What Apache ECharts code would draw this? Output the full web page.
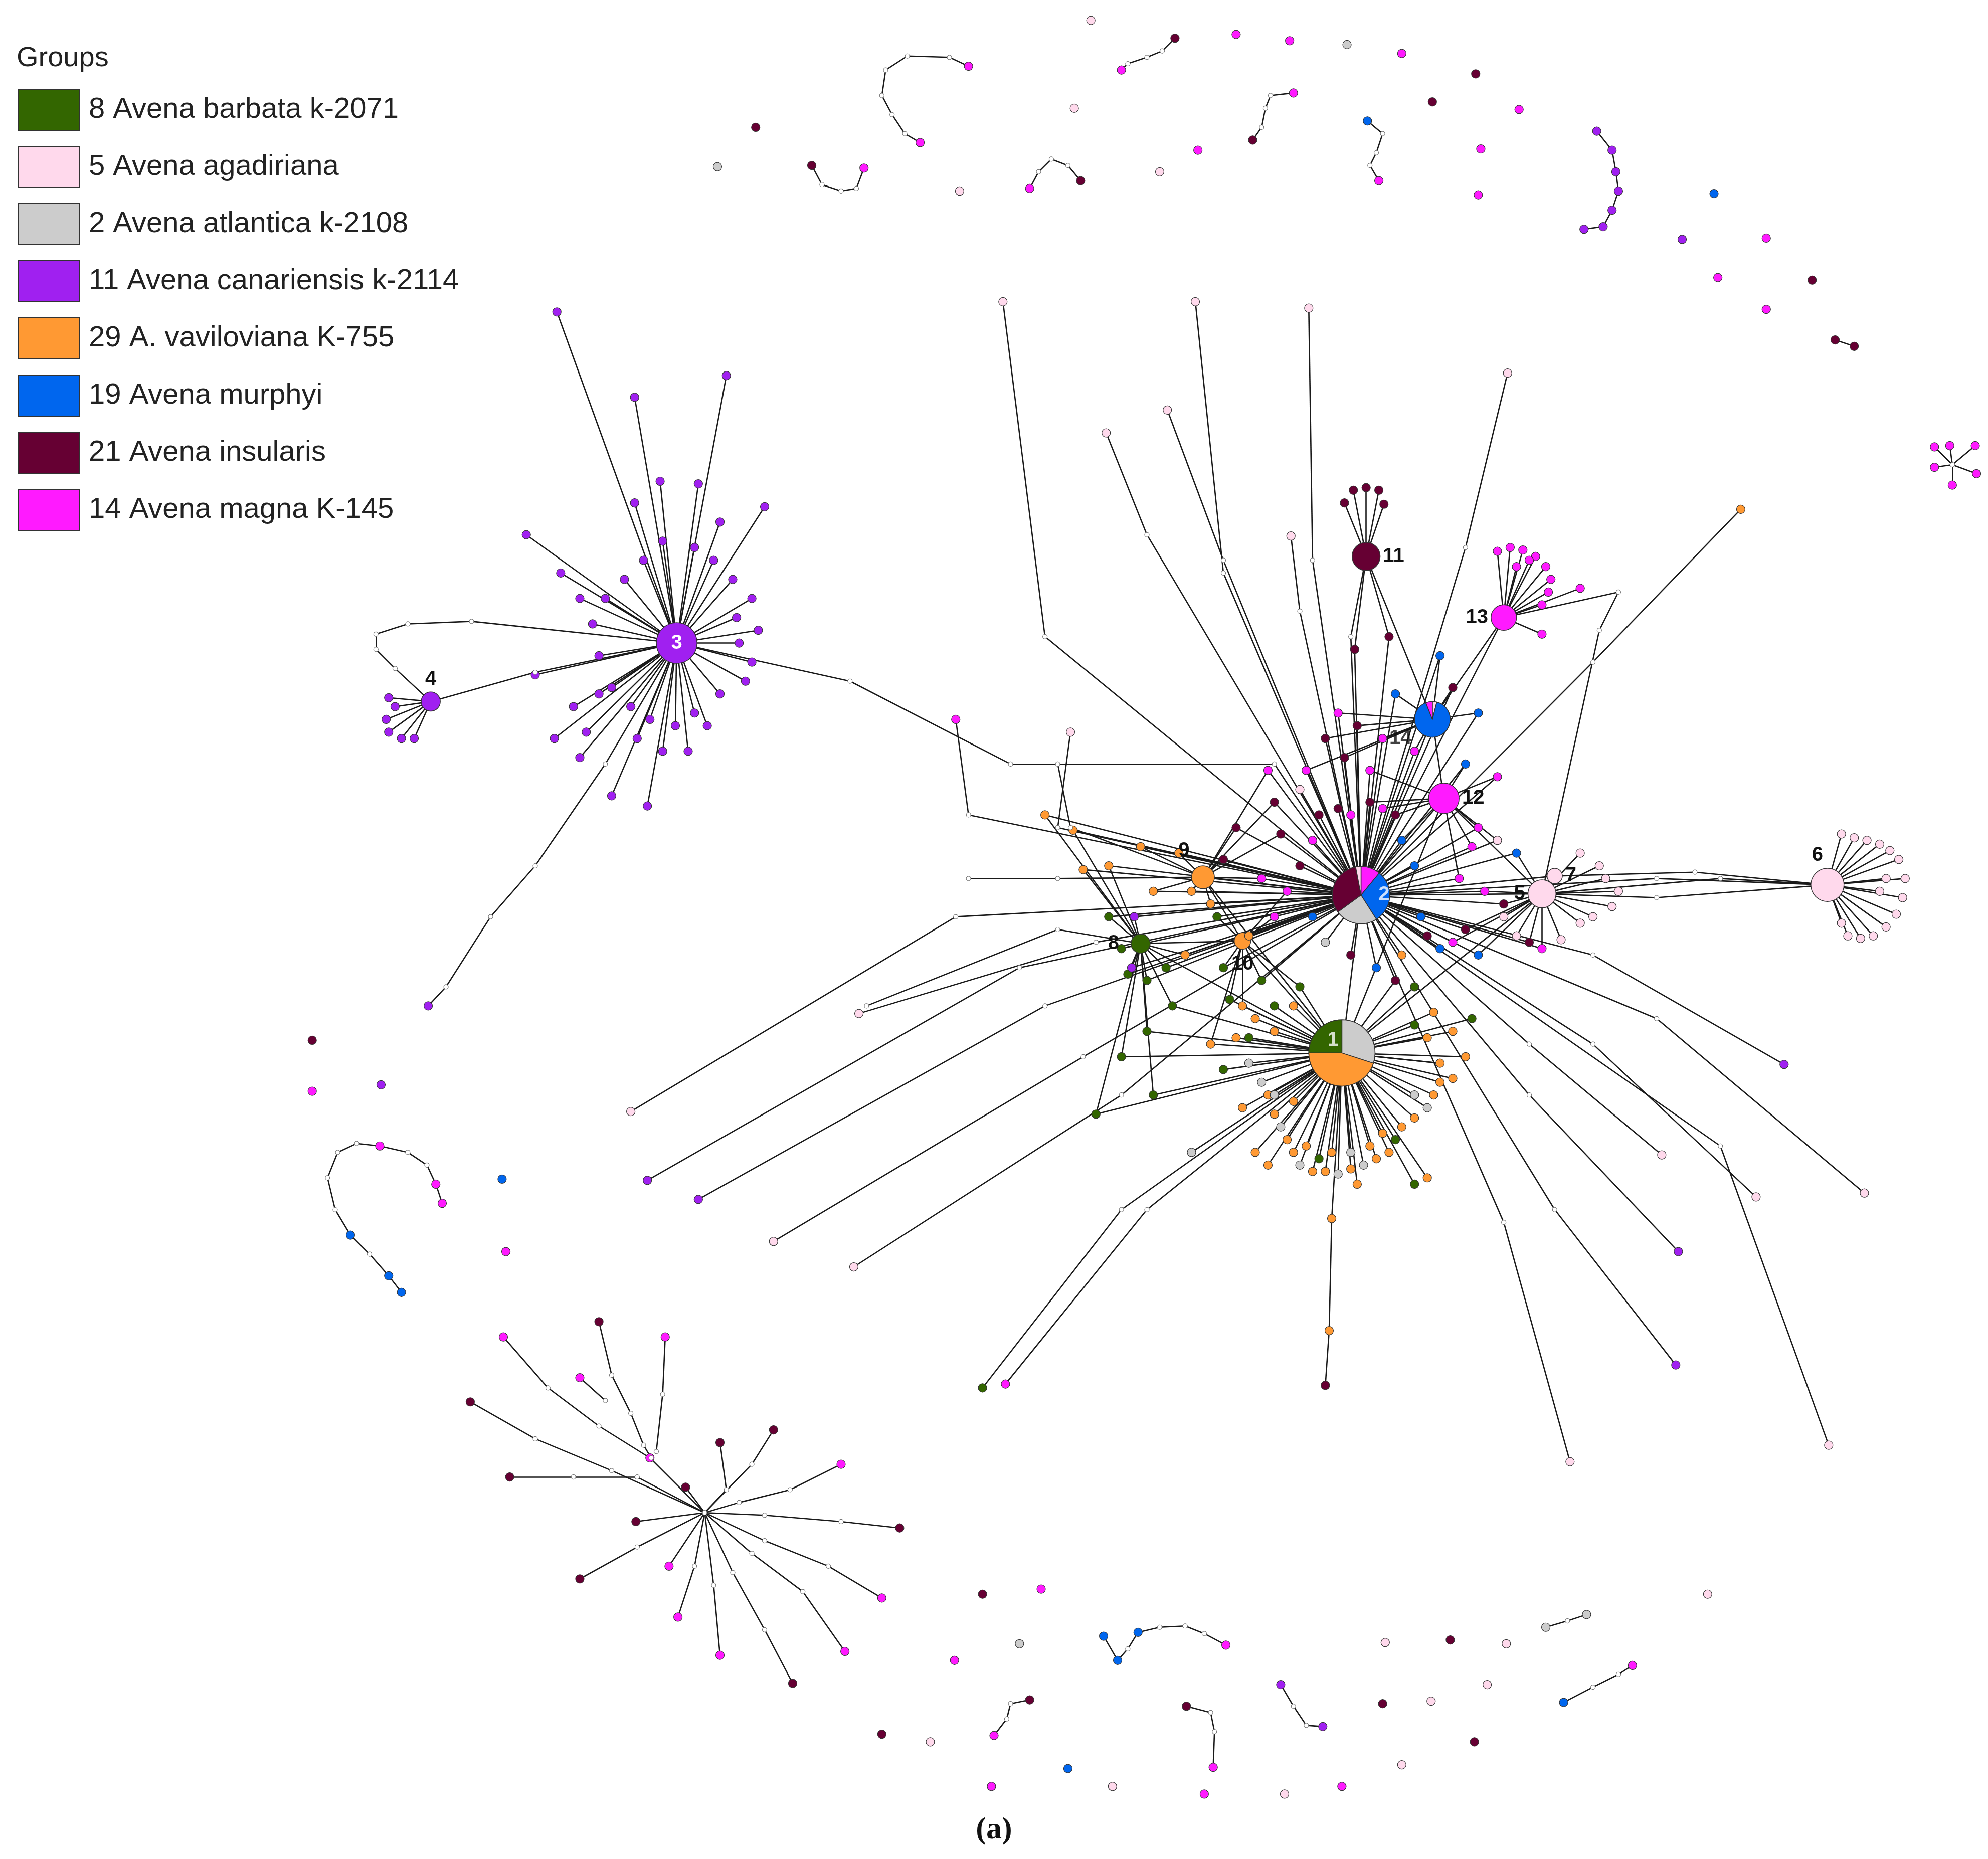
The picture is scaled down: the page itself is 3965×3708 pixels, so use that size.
<!DOCTYPE html>
<html><head><meta charset="utf-8">
<script src="https://cdn.jsdelivr.net/npm/echarts@6/dist/echarts.min.js"></script>
<style>html,body{margin:0;background:#fff}#c{width:3965px;height:3708px}</style>
</head><body><div id="c"></div>
<script>
const groups=['8 Avena barbata k-2071','5 Avena agadiriana','2 Avena atlantica k-2108','11 Avena canariensis k-2114','29 A. vaviloviana K-755','19 Avena murphyi','21 Avena insularis','14 Avena magna K-145'];
const colors=['#336600','#ffd9ec','#cccccc','#a020f0','#ff9933','#0066ee','#660033','#ff1aff'];
// hubs: name, x, y, group, diameter(display px), label position
const hubs=[['1',1053,827,4,52,'inside'],['2',1068,703,5,45,'inside'],['3',531,505,3,32,'inside'],['4',338,551,3,15,'top'],
['5',1210,702,1,22,'left'],['6',1434,695,1,26,'top'],['7',1220,688,1,12,'right'],['8',895,741,0,15,'left'],['9',944,689,4,18,'top'],
['10',975,739,4,13,'bottom'],['11',1072,437,6,22,'right'],['12',1133,627,7,24,'right'],['13',1180,485,7,20,'left'],['14',1124,565,5,28,'left']];
const labelOffsets={'8':[-18,0],'9':[-38,-4],'6':[-20,0],'10':[0,4]};
const pie1=[['grey',2,30],['orange',4,45],['green',0,25]];
const pie2=[['magenta',7,11],['blue',5,30],['grey',2,24],['maroon',6,32],['pink',1,3]];
const pie14=[['pink',1,4],['blue',5,90],['magenta',7,6]];
const leaves3=[[437,245],[498,312],[570,295],[600,398],[518,378],[413,420],[440,450],[420,530],[435,580],[455,595],[480,625],[508,633],[555,570],[590,520],[595,495],[590,470],[575,455],[560,440],[545,430],[520,425],[505,440],[490,455],[475,470],[465,490],[470,515],[480,540],[495,555],[510,565],[530,570],[545,560],[565,545],[580,505],[578,485],[470,545],[500,580],[520,590],[540,590],[460,575],[450,555],[585,535],[548,380],[565,410],[498,395],[455,470]];
const leaves4=[[305,548],[303,565],[305,575],[315,580],[325,580],[310,555]];
const leaves6=[[1445,655],[1455,658],[1465,660],[1475,663],[1483,668],[1490,675],[1495,690],[1493,705],[1488,718],[1480,728],[1470,735],[1460,737],[1450,735],[1445,725],[1475,700],[1480,690]];
const leaves5=[[1240,670],[1255,680],[1260,690],[1270,700],[1265,712],[1250,720],[1240,725],[1225,738],[1190,735],[1180,720]];
const leaves13=[[1175,433],[1185,430],[1195,432],[1205,437],[1213,445],[1217,455],[1215,465],[1210,475],[1200,440],[1190,445],[1240,462],[1210,498]];
const leaves11=[[1055,395],[1062,385],[1072,383],[1082,385],[1086,396]];
const leaves1=[[1000,875,4],[1005,885,2],[1010,895,4],[1015,905,4],[1020,915,2],[1030,920,4],[1040,920,4],[1050,922,2],[1060,918,4],[1070,915,2],[1080,910,4],[1090,905,4],[1095,895,0],[1100,885,4],[1110,878,4],[1120,870,2],[1125,860,4],[1130,850,4],[995,860,4],[990,850,2],[985,905,4],[995,915,4],[1045,905,4],[1060,905,2],[1075,900,4],[1085,890,4],[1025,900,4],[1035,910,0],[1065,930,4],[1110,930,0],[1120,925,4],[1130,835,4],[1120,815,4],[1110,805,0],[980,835,2],[970,815,4],[985,800,4],[1000,790,0],[975,870,4],[1000,860,2],[1015,865,4],[1110,860,2]];
const scatterCenter=[[1035,640,6],[1050,635,6],[1060,640,7],[1075,630,6],[1085,635,7],[1095,640,6],[1100,660,5],[1110,680,5],[1115,720,5],[1120,735,6],[1130,745,5],[1140,740,7],[1150,730,6],[1160,750,5],[1030,660,7],[1020,680,6],[1010,700,7],[1000,720,7],[990,690,7],[1030,720,5],[1040,740,2],[1060,750,6],[1080,760,5],[1095,770,6],[1005,655,6],[995,605,7],[1000,630,6],[1025,605,7],[1055,595,6],[1075,605,7],[1065,570,6],[1085,580,7],[1050,560,7],[1040,580,6],[1020,620,1],[1145,690,7],[1165,700,7],[1180,710,6],[1175,660,1],[1190,670,5],[1155,665,7],[1200,740,6],[1210,745,7],[970,650,6],[960,675,6],[1110,590,7],[1150,600,5],[1160,650,7],[1175,610,7],[1095,545,5],[1130,515,5],[1160,560,5],[1140,540,6],[1063,510,6],[1090,500,6],
[870,720,0],[880,745,0],[885,765,0],[900,770,0],[915,760,0],[930,750,4],[955,720,0],[960,760,0],[965,785,0],[975,790,4],[990,770,0],[920,790,0],[900,810,0],[880,830,0],[860,875,0],[905,860,0],[935,905,2],[950,820,4],[960,840,0],[980,815,0],[1000,810,4],[1015,790,4],[1020,775,0],[1110,775,0],[1125,795,4],[1140,810,4],[1100,750,4],[935,700,4],[925,670,4],[895,665,4],[870,680,4],[850,683,4],[842,652,4],[820,640,4],[890,720,3],[888,760,3],[905,700,4],[950,710,4],[980,735,4],[1140,847,4],[1150,830,4],[1155,800,0],[1130,835,2]];
const chains=[
['2',[820,500],[787,237,1]],['2',[960,450],[938,237,1]],['2',[1030,440],[1027,242,1]],['2',[900,420],[868,340,1]],['2',[960,440],[916,322,1]],
['2',[1150,430],[1183,293,1]],['2',[1250,520],[1366,400,4]],['2',[1020,480],[1013,421,1]],['2',[750,720],[495,873,1]],['2',[800,760],[508,927,3]],
['2',[820,790],[548,942,3]],['2',[850,830],[607,975,1]],['2',[880,860],[670,995,1]],['2',[860,740],[674,796,1]],['2',[1250,750],[1400,836,3]],
['2',[1300,800],[1463,937,1]],['2',[1250,820],[1378,940,1]],['2',[1200,820],[1304,907,1]],['2',[1200,860],[1317,983,3]],['2',[1220,950],[1315,1072,3]],
['2',[1350,900],[1435,1135,1]],['2',[1180,960],[1232,1148,1]],['1',[1045,957,4],[1043,1045,4],[1040,1088,6]],['1',[880,950],[771,1090,0]],['1',[900,950],[789,1087,7]],
['2',[830,650],[840,575,1]],['2',[760,640],[750,565,7]],['2','9'],['2','12'],['2','14'],['2','5'],['2','7'],['2',[1300,690],'6'],['5',[1350,690],'6'],['5',[1300,705],'6'],['7',[1330,685],'6'],
['2',[1060,500],'11'],['2','13'],['1','2'],['1','9'],['1','8'],['1','10'],['1','5'],['1','12'],['8',[830,730],[680,790]],['9',[830,690],[760,690]],['9',[840,650],[830,600]],
['3',[667,535],[793,600],[1000,600],'2'],['3',[475,600],[420,680],[385,720],[350,775],[336,790,3]],['3',[370,488],[320,490],[295,498],[295,510],[310,525],'4'],['4',[420,528],'3'],
['13',[1270,465],[1255,495],'5'],['14','12'],['14','13'],['11','14'],['12','5'],['10','8'],['9','10'],
[[760,52,7],[745,45],[712,44],[695,55],[692,75],[700,90],[710,105],[722,112,7]],[[637,130,6],[645,145],[660,150],[672,148],[678,132,7]],
[[880,55,7],[885,50],[900,45],[912,40],[922,30,6]],[[808,148,7],[815,135],[825,125],[838,130],[848,142,6]],[[983,110,6],[990,100],[993,85],[997,75],[1015,73,7]],
[[1073,95,5],[1085,105],[1080,120],[1075,130],[1082,142,7]],[[1253,103,3],[1265,118,3],[1268,135,3],[1270,150,3],[1265,165,3],[1258,178,3],[1243,180,3]],[[1440,267,6],[1455,272,6]],
[[315,1015,5],[305,1002,5],[290,985],[275,970,5],[263,950],[257,925],[265,905],[280,898],[298,900,7],[320,905],[335,915],[342,930,7],[347,945,7]],
[[395,1050,7],[430,1090],[470,1120],[510,1145,7],[553,1188]],[[470,1038,6],[480,1080],[495,1110],[505,1135],[511,1145]],[[522,1050,7],[520,1095],[515,1140]],[[455,1082,7],[475,1100]],
[[369,1101,6],[420,1130],[480,1155],[553,1188]],[[400,1160,6],[450,1160],[500,1160],[553,1188]],[[455,1240,6],[500,1215],[553,1188]],[[499,1195,6],[553,1188]],[[525,1230,7],[553,1188]],
[[532,1270,7],[545,1230],[553,1188]],[[565,1300,7],[560,1245],[553,1188]],[[622,1322,6],[600,1280],[575,1235],[553,1188]],[[663,1297,7],[630,1250],[590,1220],[553,1188]],
[[692,1255,7],[650,1230],[600,1210],[553,1188]],[[706,1200,6],[660,1195],[600,1190],[553,1188]],[[660,1150,7],[620,1170],[580,1180],[553,1188]],[[607,1123,6],[590,1150],[553,1188]],
[[565,1133,6],[570,1170],[553,1188]],[[538,1168,6],[553,1188]],
[[866,1285,5],[877,1304,5],[885,1295],[893,1282,5],[910,1278],[930,1277],[945,1283],[962,1292,7]],[[780,1363,7],[790,1350],[793,1338],[808,1335,6]],
[[931,1340,6],[950,1345],[953,1360],[952,1388,7]],[[1005,1323,3],[1015,1340],[1025,1355],[1038,1356,3]],[[1213,1278,2],[1230,1273],[1245,1268,2]],[[1227,1337,5],[1250,1325],[1270,1315],[1281,1308,7]],
[[1532,365],[1518,351,7]],[[1532,365],[1550,350,7]],[[1532,365],[1518,367,7]],[[1532,365],[1551,372,7]],[[1532,365],[1532,381,7]],[[1532,365],[1530,350,7]]];
const singles=[[856,16,1],[970,27,7],[1012,32,7],[1057,35,2],[1100,42,7],[1158,58,6],[1124,80,6],[1192,86,7],[1162,117,7],[1160,153,7],[1345,152,5],[1320,188,3],[1386,187,7],[1422,220,6],[1348,218,7],[1386,243,7],[593,100,6],[563,131,2],[753,150,1],[843,85,1],[910,135,1],[940,118,7],
[245,817,6],[245,857,7],[299,852,3],[394,926,5],[397,983,7],[771,1252,6],[817,1248,7],[800,1291,2],[749,1304,7],[692,1362,6],[730,1368,1],[838,1389,5],[873,1403,1],[778,1403,7],[1087,1290,1],[1138,1288,6],[1182,1291,1],[1340,1252,1],[1085,1338,6],[1123,1336,1],[1167,1323,1],[1157,1368,6],[1100,1386,1],[1008,1409,1],[1053,1403,7],[945,1409,7]];

const S=2.54,W=1560,H=1460;
const nodes=[],links=[],keyMap={};
function tiny(x,y){const k=x+','+y;if(keyMap[k])return keyMap[k];const n='t'+nodes.length;nodes.push({name:n,value:[x,y],symbolSize:9,itemStyle:{color:'#fff',borderColor:'#777',borderWidth:1.2}});keyMap[k]=n;return n;}
function leaf(x,y,c){const k=x+','+y;if(keyMap[k])return keyMap[k];const n='n'+nodes.length;nodes.push({name:n,value:[x,y],category:c,symbolSize:17,itemStyle:{color:colors[c],borderColor:'#333',borderWidth:1.2}});keyMap[k]=n;return n;}
function ref(p){if(typeof p==='string')return p;return p.length>2?leaf(p[0],p[1],p[2]):tiny(p[0],p[1]);}
const pieHubs={'1':1,'2':1,'14':1};
hubs.forEach(h=>{keyMap[h[1]+','+h[2]]=h[0];nodes.push({name:h[0],value:[h[1],h[2]],category:h[3],symbolSize:h[4]*S,z:5,
 itemStyle:{color:colors[h[3]],borderColor:'#333',borderWidth:1.5},
 label:{show:!pieHubs[h[0]],position:h[5],offset:labelOffsets[h[0]]||[0,0],formatter:h[0],fontSize:40,fontWeight:'bold',color:h[5]==='inside'?'#fff':'#111',fontFamily:'Arial'}});});
function star(hub,arr,c){arr.forEach(p=>links.push({source:hub,target:leaf(p[0],p[1],p.length>2?p[2]:c)}));}
star('3',leaves3,3);star('4',leaves4,3);star('6',leaves6,1);star('5',leaves5,1);star('13',leaves13,7);star('11',leaves11,6);star('1',leaves1);
const near=hubs.filter(h=>['1','2','5','8','9','10','12','14','11','13'].includes(h[0]));
scatterCenter.forEach(p=>{const n=leaf(p[0],p[1],p[2]);let best=null,bd=1e9;near.forEach(h=>{const d=(h[1]-p[0])**2+(h[2]-p[1])**2;if(d<bd){bd=d;best=h[0];}});
 links.push({source:best,target:n});const other=p[1]>770?'1':'2';if(other!==best)links.push({source:other,target:n});});
chains.forEach(ch=>{const ids=ch.map(ref);for(let i=1;i<ids.length;i++)links.push({source:ids[i-1],target:ids[i]});});
singles.forEach(p=>leaf(p[0],p[1],p[2]));

function pieSeries(name,parts,size){const h=hubs.find(x=>x[0]===name);return {type:'pie',z:6,center:[(h[1]/W*100)+'%',(h[2]/H*100)+'%'],radius:size*S/2,label:{show:false},silent:true,startAngle:90,
 itemStyle:{borderColor:'#333',borderWidth:1.5},data:parts.map(p=>({name:p[0],value:p[2],itemStyle:{color:colors[p[1]]}}))};}
const pieLabels=hubs.filter(h=>pieHubs[h[0]]&&h[0]!=='14').map(h=>({value:[h[1]-(h[0]==='1'?7:-18),h[2]-(h[0]==='1'?10:0)],label:{formatter:h[0]}}));
pieLabels.push({value:[1099,580],label:{formatter:'14',color:'#111',fontWeight:'bold'}});

const chart=echarts.init(document.getElementById('c'));
chart.setOption({
 backgroundColor:'#fff',animation:false,
 title:[{text:'Groups',left:28,top:84,textStyle:{fontSize:56,fontWeight:'normal',color:'#222',fontFamily:'Arial'}},
  {text:'(a)',left:'center',top:3615,textStyle:{fontSize:62,fontWeight:'bold',color:'#111',fontFamily:'Liberation Serif'}}],
 legend:{orient:'vertical',left:30,top:172,icon:'rect',itemWidth:122,itemHeight:82,itemGap:30,data:groups,
  textStyle:{fontSize:58,color:'#222',fontFamily:'Arial',padding:[0,0,0,14]},itemStyle:{borderColor:'#333',borderWidth:2},selectedMode:false},
 grid:{left:0,right:0,top:0,bottom:0},
 xAxis:{type:'value',min:0,max:W,show:false},yAxis:{type:'value',min:0,max:H,inverse:true,show:false},
 series:[
  {type:'graph',coordinateSystem:'cartesian2d',layout:'none',z:2,categories:groups.map((g,i)=>({name:g,itemStyle:{color:colors[i]}})),
   data:nodes,links:links,lineStyle:{color:'#1a1a1a',width:2.6,opacity:1,curveness:0},emphasis:{disabled:true}},
  pieSeries('1',pie1,52),pieSeries('2',pie2,45),pieSeries('14',pie14,28),
  {type:'scatter',z:10,symbolSize:0,silent:true,data:pieLabels,label:{show:true,position:'inside',fontSize:40,fontWeight:'bold',color:'#fff',fontFamily:'Arial'}}
 ]});
</script></body></html>
